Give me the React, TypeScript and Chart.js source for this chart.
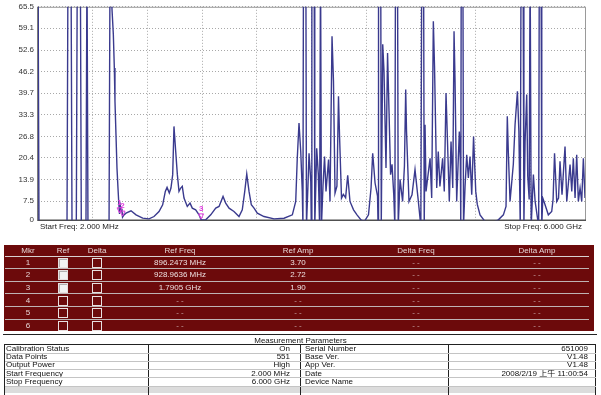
import React, { useEffect, useRef } from "react";
import { Chart, registerables } from "chart.js";

Chart.register(...registerables);

// ---- Trace data (frequency in MHz, amplitude as displayed) ----
const freqMHz = [
  2, 13,
  320, 331, 364, 375,
  422, 433, 466, 477,
  528, 539, 550,
  781, 792, 805,
  813, 828, 839, 846, 857, 868, 879, 887, 896, 905, 914, 922, 929, 945, 967,
  1022, 1077, 1150, 1219, 1274, 1329, 1369, 1398, 1417, 1442, 1460, 1479, 1493,
  1512, 1530, 1548, 1567, 1584, 1603, 1639, 1669, 1694, 1731, 1768, 1790.5,
  1841, 1896, 1951, 1987, 2031, 2060, 2097, 2151, 2206, 2242, 2269, 2291,
  2316, 2341, 2371, 2407, 2480, 2590, 2700, 2791, 2828, 2845, 2864, 2883, 2900,
  2907, 2913, 2939, 2946, 2962, 2974, 2993, 2999, 3005, 3030, 3037, 3050, 3058,
  3076, 3090, 3100, 3110, 3127, 3144, 3160, 3188, 3204, 3226, 3242, 3259, 3280,
  3297, 3308, 3330, 3350, 3375, 3398, 3423, 3462, 3500, 3544, 3580, 3626, 3654,
  3672, 3698, 3725, 3731, 3736, 3760, 3766, 3782, 3796, 3818, 3835, 3851, 3868,
  3884, 3903, 3915, 3922, 3944, 3952, 3972, 4000, 4020, 4034, 4043, 4070, 4103,
  4136, 4169, 4200, 4210, 4230, 4237, 4246, 4257, 4301, 4319, 4337, 4350, 4374,
  4391, 4409, 4439, 4457, 4476, 4490, 4512, 4531, 4550, 4564, 4575, 4593, 4622,
  4633, 4638, 4643, 4661, 4668, 4685, 4703, 4721, 4739, 4758, 4778, 4802, 4819,
  4849, 4904, 4995, 5050, 5105, 5134, 5148, 5159, 5178, 5214, 5233, 5259, 5275,
  5290, 5299, 5321, 5330, 5343, 5361, 5372, 5388, 5398, 5410, 5434, 5453, 5492,
  5499, 5518, 5526, 5537, 5562, 5598, 5635, 5650, 5666, 5690, 5710, 5726, 5748,
  5781, 5800, 5836, 5855, 5872, 5891, 5909, 5927, 5946, 5964, 5982, 6000,
];

const ampValues = [
  80, 0,
  0, 80, 80, 0,
  0, 80, 80, 0,
  0, 80, 0,
  0, 80, 80,
  65.0, 57.3, 47.2, 37.3, 27.4, 17.4, 11.4, 7.4, 3.7, 6.0, 4.4, 5.2, 2.7, 3.4, 3.9,
  4.6, 3.4, 2.4, 2.2, 2.9, 4.4, 6.4, 10.4, 11.6, 9.9, 11.4, 15.4, 29.8,
  22.3, 15.4, 10.4, 11.4, 11.9, 8.4, 5.9, 6.9, 5.4, 4.9, 3.4, 1.9,
  1.9, 3.4, 5.4, 5.9, 8.9, 6.9, 5.4, 4.4, 2.9, 4.9, 10.4, 15.6,
  10.4, 6.4, 5.4, 3.9, 2.9, 2.2, 2.4, 3.4, 7.4, 20.3, 30.8, 22.3, 10.4,
  0, 80, 80, 0, 12.0, 21.8, 13.4, 0, 80, 80, 0, 14.0, 23.3,
  15.4, 0, 80, 0, 12.0, 20.8, 10.4, 19.9, 7.4, 56.7, 43.3, 9.9, 12.0,
  38.8, 27.4, 8.4, 9.5, 8.5, 15.2, 7.4, 4.9, 3.4, 1.9, 1.4, 3.4, 11.4,
  21.8, 12.9, 9.0, 0, 80, 80, 0, 54.3, 46.3, 17.4, 51.7, 34.3, 15.4,
  18.5, 9.4, 0, 80, 80, 0, 14.0, 7.4, 18.0, 40.8, 28.3, 7.4, 9.4,
  16.9, 8.4, 0, 80, 80, 0, 30.3, 10.4, 20.3, 8.4, 61.2, 47.7, 11.4,
  22.3, 11.9, 20.3, 10.4, 39.8, 27.4, 7.4, 25.3, 11.4, 58.2, 43.3, 7.4, 28.3,
  19.4, 0, 80, 80, 0, 12.0, 21.3, 14.4, 20.8, 9.4, 26.8, 10.4, 6.5,
  3.4, 1.4, 1.2, 1.9, 3.4, 5.9, 32.8, 22.3, 7.4, 18.5, 30.3, 40.3, 28.3,
  0, 80, 80, 0, 25.3, 39.3, 15.0, 8.0, 80, 0, 15.4, 7.4, 0,
  80, 80, 0, 8.4, 6.4, 3.4, 4.4, 8.0, 21.8, 7.4, 8.4, 19.4, 9.4,
  23.8, 7.4, 18.4, 10.4, 20.3, 8.4, 21.3, 7.4, 11.4, 7.4, 20.3, 8.4,
];

// ---- Axis ticks ----
const yTickValues = [1.8, 7.5, 13.9, 20.4, 26.8, 33.3, 39.7, 46.2, 52.6, 59.1, 65.5];
const yTickLabels = ["0", "7.5", "13.9", "20.4", "26.8", "33.3", "39.7", "46.2", "52.6", "59.1", "65.5"];
const xGridMHz = [2, 602, 1202, 1801, 2401, 3001, 3601, 4201, 4800, 5400, 6000];
const startLabel = "Start Freq: 2.000 MHz";
const stopLabel = "Stop Freq: 6.000 GHz";

// ---- Markers ----
const markerIds = ["1", "2", "3"];
const markerFreqMHz = [896.2473, 928.9636, 1790.5];
const markerAmp = [3.7, 2.72, 1.9];

// ---- Marker table ----
const mkrHeaders = ["Mkr", "Ref", "Delta", "Ref Freq", "Ref Amp", "Delta Freq", "Delta Amp"];
const mkrNumbers = ["1", "2", "3", "4", "5", "6"];
const mkrRefOn = [true, true, true, false, false, false];
const mkrRefFreq = ["896.2473 MHz", "928.9636 MHz", "1.7905 GHz", "- -", "- -", "- -"];
const mkrRefAmp = ["3.70", "2.72", "1.90", "- -", "- -", "- -"];
const mkrDeltaFreq = ["- -", "- -", "- -", "- -", "- -", "- -"];
const mkrDeltaAmp = ["- -", "- -", "- -", "- -", "- -", "- -"];

// ---- Measurement parameters ----
const paramTitle = "Measurement Parameters";
const paramLeftLabels = ["Calibration Status", "Data Points", "Output Power", "Start Frequency", "Stop Frequency"];
const paramLeftValues = ["On", "551", "High", "2.000 MHz", "6.000 GHz"];
const paramRightLabels = ["Serial Number", "Base Ver.", "App Ver.", "Date", "Device Name"];
const paramRightValues = ["651009", "V1.48", "V1.48", "2008/2/19 上午 11:00:54", ""];

const FONT = '"Liberation Sans", Arial, "Noto Sans CJK SC", sans-serif';

const framePlugin = {
  id: "frame",
  beforeDatasetsDraw(chart: any) {
    const { ctx, chartArea: a } = chart;
    ctx.save();
    ctx.lineWidth = 1;
    ctx.strokeStyle = "#9a9a9a";
    ctx.beginPath();
    ctx.moveTo(a.left, a.top + 0.5);
    ctx.lineTo(a.right + 0.5, a.top + 0.5);
    ctx.lineTo(a.right + 0.5, a.bottom);
    ctx.stroke();
    ctx.strokeStyle = "#505050";
    ctx.lineWidth = 1.5;
    ctx.beginPath();
    ctx.moveTo(a.left, a.top);
    ctx.lineTo(a.left, a.bottom);
    ctx.lineTo(a.right + 1, a.bottom);
    ctx.stroke();
    ctx.restore();
  },
};

const markerPlugin = {
  id: "markers",
  afterDatasetsDraw(chart: any) {
    const { ctx, scales } = chart;
    ctx.save();
    ctx.fillStyle = "#e03ce0";
    ctx.strokeStyle = "#e03ce0";
    ctx.lineWidth = 1;
    ctx.font = `bold 8px ${FONT}`;
    ctx.textAlign = "center";
    ctx.textBaseline = "middle";
    for (let i = 0; i < markerIds.length; i++) {
      const px = scales.x.getPixelForValue(markerFreqMHz[i]);
      const py = scales.y.getPixelForValue(markerAmp[i]);
      ctx.fillText(markerIds[i], px, py - 11);
      ctx.beginPath();
      ctx.moveTo(px - 2.5, py - 6);
      ctx.lineTo(px + 2.5, py - 6);
      ctx.lineTo(px, py - 1);
      ctx.closePath();
      ctx.stroke();
    }
    ctx.restore();
  },
};

function SpectrumChart() {
  const ref = useRef<HTMLCanvasElement | null>(null);
  useEffect(() => {
    if (!ref.current) return;
    const points = freqMHz.map((f, i) => ({ x: f, y: ampValues[i] }));
    const chart = new Chart(ref.current, {
      type: "line",
      data: {
        datasets: [
          {
            data: points,
            borderColor: "#3a3a8e",
            borderWidth: 1.4,
            pointRadius: 0,
            tension: 0,
            fill: false,
          },
        ],
      },
      options: {
        animation: false,
        responsive: false,
        maintainAspectRatio: false,
        layout: { padding: { left: 0, right: 16, top: 3.7, bottom: 5 } },
        plugins: { legend: { display: false }, tooltip: { enabled: false } },
        scales: {
          x: {
            type: "linear",
            min: 2,
            max: 6000,
            afterBuildTicks: (s: any) => {
              s.ticks = xGridMHz.map((v) => ({ value: v }));
            },
            ticks: { display: false },
            grid: { color: "#a8a8a8", drawTicks: false, lineWidth: 1 },
            border: { display: false, dash: [1, 2] },
          },
          y: {
            min: 1.8,
            max: 65.5,
            afterBuildTicks: (s: any) => {
              s.ticks = yTickValues.map((v) => ({ value: v }));
            },
            afterFit: (s: any) => {
              s.width = 38;
            },
            ticks: {
              color: "#333333",
              font: { family: FONT, size: 8 },
              padding: 4,
              callback: (_v: any, i: number) => yTickLabels[i],
            },
            grid: { color: "#a8a8a8", drawTicks: false, lineWidth: 1 },
            border: { display: false, dash: [1, 2] },
          },
        },
      },
      plugins: [framePlugin, markerPlugin],
    } as any);
    return () => chart.destroy();
  }, []);
  return <canvas ref={ref} width={601} height={231} style={{ position: "absolute", left: 0, top: -2.3, width: 601, height: 231 }} />;
}

const colCenters = [28, 63, 97, 180, 298, 416, 537];

function Checkbox({ on, x, y }: { on: boolean; x: number; y: number }) {
  return (
    <div
      style={{
        position: "absolute",
        left: x - 5,
        top: y - 5,
        width: 8,
        height: 8,
        border: "1px solid #e8e0e0",
        background: on ? "#f2f2f2" : "transparent",
        boxShadow: on ? "inset 1px 1px 0 #b0b0b0" : "none",
      }}
    />
  );
}

function MarkerTable() {
  const top = 245;
  const headerH = 11;
  const rowH = 12.6;
  const textStyle = (cx: number, cy: number, color: string): React.CSSProperties => ({
    position: "absolute",
    left: cx - 60,
    width: 120,
    top: cy - 5,
    height: 10,
    lineHeight: "10px",
    textAlign: "center",
    color,
    fontSize: 8,
    fontFamily: FONT,
    whiteSpace: "nowrap",
  });
  const els: any[] = [];
  mkrHeaders.forEach((h, i) => {
    els.push(
      <div key={"h" + i} style={textStyle(colCenters[i], top + headerH / 2, "#e6d6d6")}>
        {h}
      </div>
    );
  });
  for (let r = 0; r < mkrNumbers.length; r++) {
    const lineY = top + headerH + r * rowH;
    els.push(
      <div
        key={"l" + r}
        style={{ position: "absolute", left: 5, width: 584, top: lineY - 0.5, height: 1, background: r === 0 ? "#d8d0d0" : "#bfb3b3" }}
      />
    );
    const cy = lineY + rowH / 2 + 0.5;
    els.push(<div key={"n" + r} style={textStyle(colCenters[0], cy, "#e6d6d6")}>{mkrNumbers[r]}</div>);
    els.push(<Checkbox key={"c1" + r} on={mkrRefOn[r]} x={colCenters[1]} y={cy} />);
    els.push(<Checkbox key={"c2" + r} on={false} x={colCenters[2]} y={cy} />);
    const dim = "#c9a9a9";
    els.push(<div key={"f" + r} style={textStyle(colCenters[3], cy, mkrRefFreq[r] === "- -" ? dim : "#eee0e0")}>{mkrRefFreq[r]}</div>);
    els.push(<div key={"a" + r} style={textStyle(colCenters[4], cy, mkrRefAmp[r] === "- -" ? dim : "#eee0e0")}>{mkrRefAmp[r]}</div>);
    els.push(<div key={"df" + r} style={textStyle(colCenters[5], cy, dim)}>{mkrDeltaFreq[r]}</div>);
    els.push(<div key={"da" + r} style={textStyle(colCenters[6], cy, dim)}>{mkrDeltaAmp[r]}</div>);
  }
  return (
    <>
      <div style={{ position: "absolute", left: 4, top, width: 590, height: 86, background: "#6c0a0b" }} />
      {els}
    </>
  );
}

function ParamTable() {
  const top = 345;
  const rowH = 8.2;
  const cell = (left: number, width: number, y: number, text: string, align: "left" | "right", key: string) => (
    <div
      key={key}
      style={{
        position: "absolute",
        left,
        width,
        top: y,
        height: rowH,
        lineHeight: rowH + "px",
        fontSize: 8,
        fontFamily: FONT,
        color: "#111",
        textAlign: align,
        whiteSpace: "nowrap",
        overflow: "hidden",
      }}
    >
      {text}
    </div>
  );
  const els: any[] = [];
  for (let r = 0; r < paramLeftLabels.length; r++) {
    const y = top + r * rowH;
    els.push(cell(6, 140, y, paramLeftLabels[r], "left", "ll" + r));
    els.push(cell(150, 140, y, paramLeftValues[r], "right", "lv" + r));
    els.push(cell(305, 140, y, paramRightLabels[r], "left", "rl" + r));
    els.push(cell(450, 138, y, paramRightValues[r], "right", "rv" + r));
    els.push(
      <div key={"hl" + r} style={{ position: "absolute", left: 5, width: 591, top: y + rowH - 0.5, height: 1, background: "#c4c4c4" }} />
    );
  }
  const gy = top + paramLeftLabels.length * rowH;
  return (
    <>
      <div style={{ position: "absolute", left: 3, width: 594, top: 333.5, height: 1, background: "#222" }} />
      <div
        style={{
          position: "absolute",
          left: 0,
          width: 601,
          top: 336,
          height: 9,
          lineHeight: "9px",
          textAlign: "center",
          fontSize: 8,
          fontFamily: FONT,
          color: "#111",
        }}
      >
        {paramTitle}
      </div>
      <div style={{ position: "absolute", left: 5, width: 591, top: gy + 1, height: 6, background: "#dcdcdc" }} />
      <div style={{ position: "absolute", left: 4, top: top - 1, width: 592, height: 60, border: "1px solid #222", boxSizing: "border-box" }} />
      <div style={{ position: "absolute", left: 148, top: top - 1, width: 1, height: 60, background: "#222" }} />
      <div style={{ position: "absolute", left: 300, top: top - 1, width: 1, height: 60, background: "#222" }} />
      <div style={{ position: "absolute", left: 448, top: top - 1, width: 1, height: 60, background: "#222" }} />
      {els}
    </>
  );
}

export default function App() {
  return (
    <div style={{ position: "fixed", left: 0, top: 0, width: 601, height: 395, background: "#fff", overflow: "hidden" }}>
      <SpectrumChart />
      <div style={{ position: "absolute", left: 40, top: 222, fontSize: 8, fontFamily: FONT, color: "#222", whiteSpace: "nowrap" }}>
        {startLabel}
      </div>
      <div
        style={{ position: "absolute", right: 19, top: 222, fontSize: 8, fontFamily: FONT, color: "#222", whiteSpace: "nowrap", textAlign: "right" }}
      >
        {stopLabel}
      </div>
      <MarkerTable />
      <ParamTable />
    </div>
  );
}
